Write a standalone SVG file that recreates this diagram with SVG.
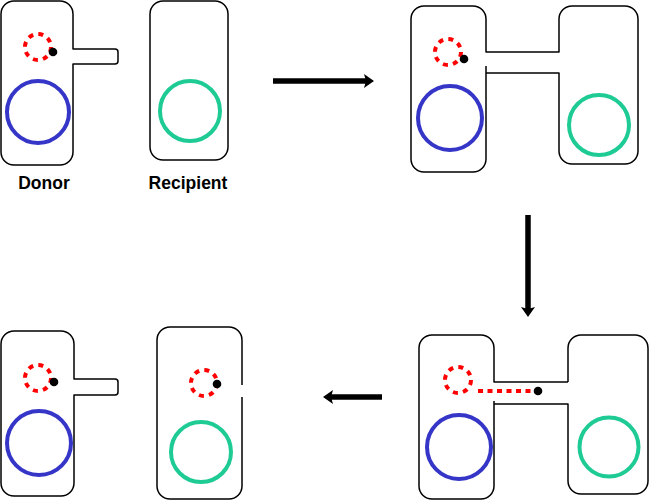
<svg xmlns="http://www.w3.org/2000/svg" width="650" height="501" viewBox="0 0 650 501">
<defs>
<style>
.cell{fill:none;stroke:#000;stroke-width:1.5;stroke-linejoin:round}
.plasmid{fill:none;stroke:#ff0000;stroke-width:4;stroke-dasharray:5 5.2}
.strand{fill:none;stroke:#ff0000;stroke-width:4;stroke-dasharray:5 4.5}
.dot{fill:#000}
.chromD{fill:none;stroke:#3535c8;stroke-width:4}
.chromR{fill:none;stroke:#1fcb94;stroke-width:4}
.arrow{stroke:#000;stroke-width:5.5;fill:none}
.lbl{font-family:"Liberation Sans",Arial,sans-serif;font-weight:bold;font-size:17.5px;fill:#000;text-anchor:middle}
</style>
<marker id="ah" markerWidth="10" markerHeight="14" viewBox="0 0 10 14" refX="2" refY="7" orient="auto" markerUnits="userSpaceOnUse">
<path d="M0,0 L10,7 L0,14 L2,7 Z" fill="#000"/>
</marker>
</defs>

<g id="step1-donor">
<path class="cell" d="M14,1 H60 A13,13 0 0 1 73,14 V49 H115 A3,3 0 0 1 118,52 V61 A3,3 0 0 1 115,64 H73 V152 A13,13 0 0 1 60,165 H14 A13,13 0 0 1 1,152 V14 A13,13 0 0 1 14,1 Z"/>
<circle class="plasmid" cx="38" cy="47" r="13"/>
<circle class="dot" cx="53" cy="52" r="4.3"/>
<circle class="chromD" cx="38" cy="112" r="31"/>
<text class="lbl" x="44" y="189">Donor</text>
</g>

<g id="step1-recipient">
<rect class="cell" x="150" y="1" width="78" height="159" rx="13"/>
<circle class="chromR" cx="190" cy="111" r="30"/>
<text class="lbl" x="188" y="189">Recipient</text>
</g>

<g id="step2-pair">
<path class="cell" d="M486,66 V159 A13,13 0 0 1 473,172 H424 A13,13 0 0 1 411,159 V19 A13,13 0 0 1 424,6 H473 A13,13 0 0 1 486,19 V52 H559 V19 A13,13 0 0 1 572,6 H625 A13,13 0 0 1 638,19 V151 A13,13 0 0 1 625,164 H572 A13,13 0 0 1 559,151 V73 H486"/>
<circle class="plasmid" cx="448" cy="52" r="13"/>
<circle class="dot" cx="464" cy="59" r="4.3"/>
<circle class="chromD" cx="450" cy="118" r="32"/>
<circle class="chromR" cx="599" cy="125" r="30"/>
</g>

<g id="step3-pair">
<path class="cell" d="M568,382 H494 V348 A13,13 0 0 0 481,335 H432 A13,13 0 0 0 419,348 V486 A13,13 0 0 0 432,499 H481 A13,13 0 0 0 494,486 V401 M494,404 H568 V481 A13,13 0 0 0 581,494 H635 A13,13 0 0 0 648,481 V348 A13,13 0 0 0 635,335 H581 A13,13 0 0 0 568,348 V382"/>
<circle class="plasmid" cx="458" cy="380" r="13"/>
<line class="strand" x1="478" y1="391" x2="534" y2="391"/>
<circle class="dot" cx="538" cy="391" r="4.3"/>
<circle class="chromD" cx="459" cy="447" r="32"/>
<circle class="chromR" cx="609" cy="447" r="29.5"/>
</g>

<g id="step4-donor">
<path class="cell" d="M14,331 H61 A13,13 0 0 1 74,344 V379 H115 A3,3 0 0 1 118,382 V392 A3,3 0 0 1 115,395 H74 V483 A13,13 0 0 1 61,496 H14 A13,13 0 0 1 1,483 V344 A13,13 0 0 1 14,331 Z"/>
<circle class="plasmid" cx="38" cy="378" r="13"/>
<circle class="dot" cx="54" cy="382" r="4.3"/>
<circle class="chromD" cx="39" cy="443" r="32"/>
</g>

<g id="step4-recipient">
<path class="cell" d="M242,385 V340 A13,13 0 0 0 229,327 H170 A13,13 0 0 0 157,340 V486 A13,13 0 0 0 170,499 H229 A13,13 0 0 0 242,486 V397"/>
<circle class="plasmid" cx="204" cy="383" r="13"/>
<circle class="dot" cx="217" cy="384" r="4.3"/>
<circle class="chromR" cx="201" cy="452" r="30"/>
</g>

<g id="connectors">
<line class="arrow" x1="273" y1="81" x2="366" y2="81" marker-end="url(#ah)"/>
<line class="arrow" x1="528" y1="215" x2="528" y2="309" marker-end="url(#ah)"/>
<line class="arrow" x1="382" y1="397" x2="331" y2="397" marker-end="url(#ah)"/>
</g>
</svg>
